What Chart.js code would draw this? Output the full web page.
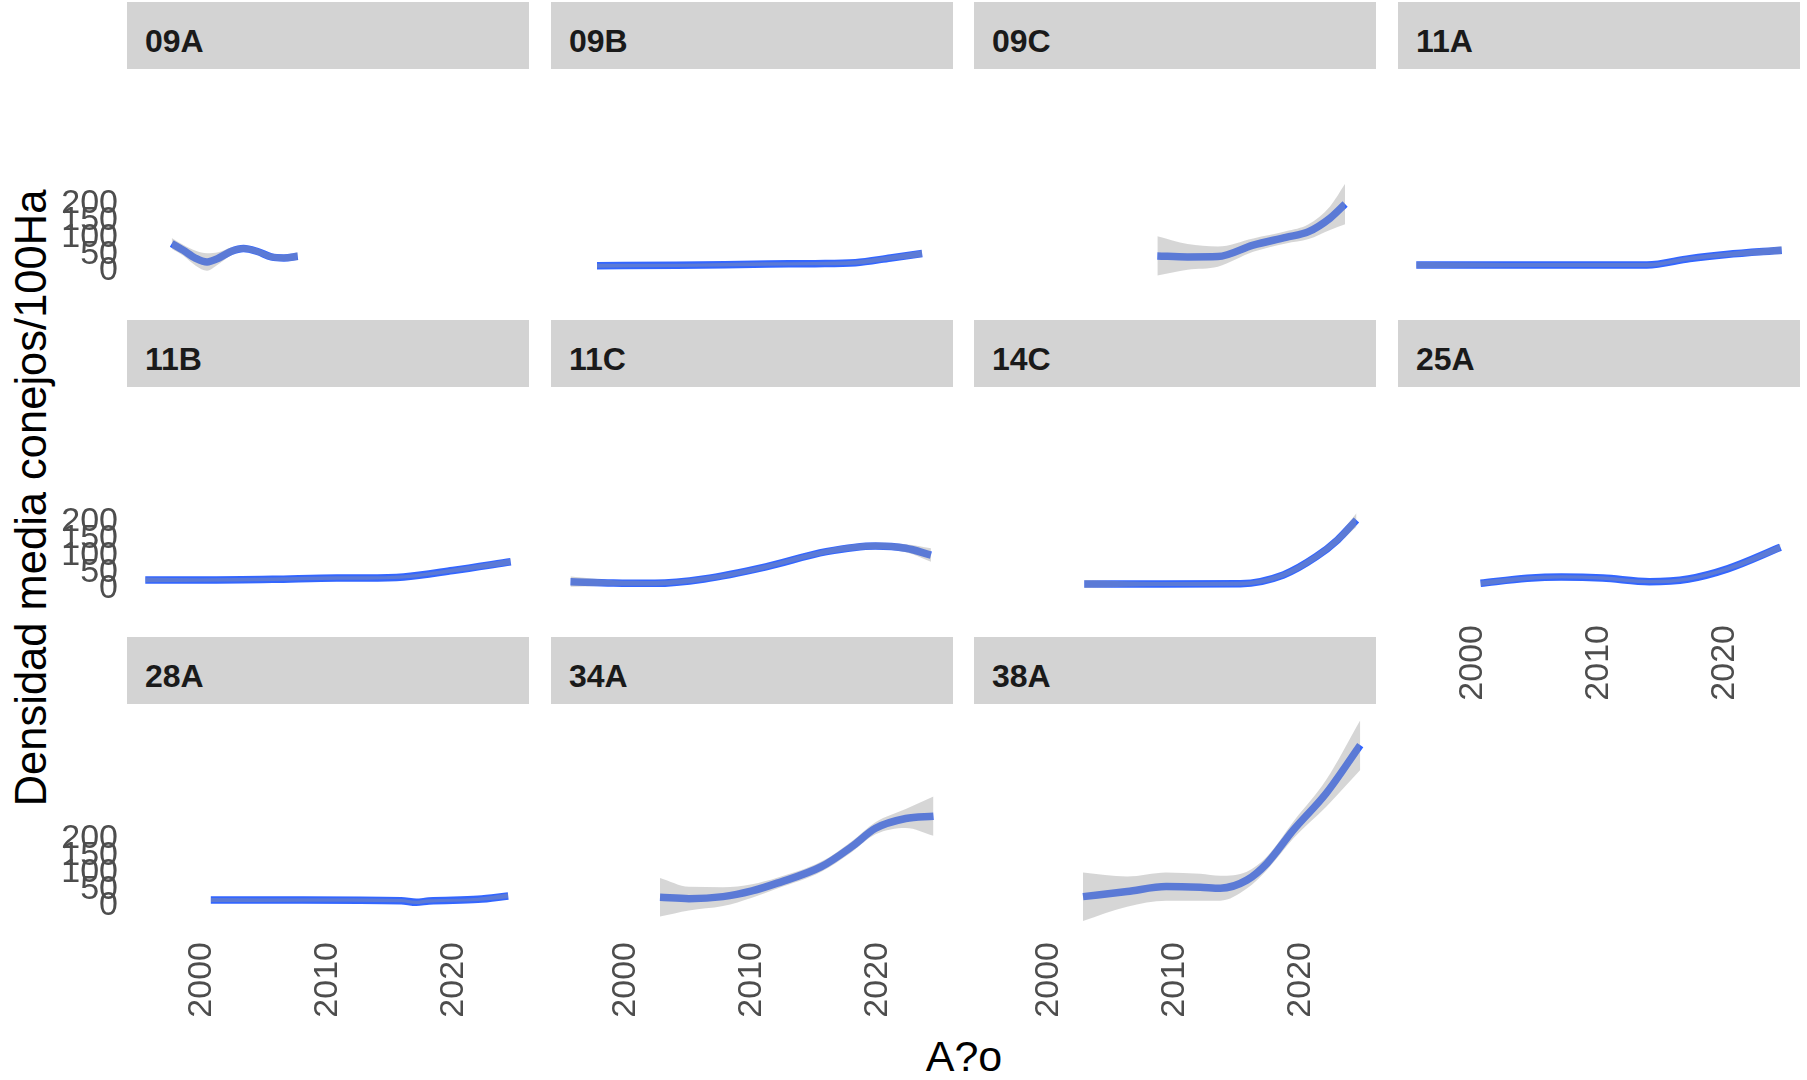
<!DOCTYPE html>
<html>
<head>
<meta charset="utf-8">
<script src="https://cdn.jsdelivr.net/npm/chart.js@4.4.1/dist/chart.umd.min.js"></script>
<style>
  body { margin: 0; background: #fff; width: 1807px; height: 1080px; position: relative; overflow: hidden;
         font-family: "Liberation Sans", Arial, sans-serif; }
  .strip { position: absolute; background: #d3d3d3; box-sizing: border-box; padding-left: 18px; padding-top: 23px;
           font-weight: bold; font-size: 32px; line-height: 32px; color: #1a1a1a; }
  canvas { position: absolute; }
  .ytitle { position: absolute; width: 700px; text-align: center; font-size: 43.5px; line-height: 44px; color: #000;
            transform: rotate(-90deg); }
  .xtitle { position: absolute; width: 400px; text-align: center; font-size: 43px; line-height: 43px; color: #000; }
</style>
</head>
<body>
<div class="ytitle" style="left:-319px; top:476px;">Densidad media conejos/100Ha</div>
<div class="xtitle" style="left:764px; top:1035px;">A?o</div>
<script>
// facet labels, in order
const panels = ['09A', '09B', '09C', '11A', '11B', '11C', '14C', '25A', '28A', '34A', '38A'];
const yearTicks = [2000, 2010, 2020];
const densityTicks = [0, 50, 100, 150, 200];

// smooth fit per panel: year, fitted value, half width of the grey band
const yr09A = [1997.6, 1998.5, 1999.5, 2000.4, 2001.3, 2002.3, 2003.3, 2004.4, 2005.5, 2006.5, 2007.6];
const fit09A = [82, 62, 38, 27, 38, 58, 67, 58, 42, 39, 44];
const ci09A = [16, 16, 22, 26, 18, 12, 10, 10, 10, 10, 12];

const yr09B = [1997.7, 2004, 2011.3, 2015, 2018.2, 2021.0, 2023.5];
const fit09B = [16, 17, 21, 22, 25, 39, 52];
const ci09B = [6, 5, 5, 5, 6, 7, 10];

const yr09C = [2008.6, 2011, 2013.4, 2016.2, 2018.8, 2020.6, 2022.3, 2023.5];
const fit09C = [45, 42, 43, 77, 100, 117, 157, 199];
const ci09C = [58, 38, 30, 20, 18, 22, 35, 60];

const yr11A = [1995.5, 2005, 2013.8, 2017.2, 2020.1, 2024.5];
const fit11A = [18, 18, 18, 37, 49, 62];
const ci11A = [10, 6, 6, 6, 7, 12];

const yr11B = [1995.5, 2000, 2005.6, 2010.7, 2013, 2016.0, 2019.9, 2024.5];
const fit11B = [27, 27, 29, 33, 33, 36, 55, 81];
const ci11B = [7, 5, 5, 5, 5, 5, 6, 9];

const yr11C = [1995.6, 1999, 2002.3, 2006.2, 2011.1, 2015.9, 2019.8, 2022.2, 2024.2];
const fit11C = [22, 18, 17, 30, 66, 111, 128, 121, 101];
const ci11C = [15, 8, 7, 7, 7, 8, 10, 12, 20];

const yr14C = [2002.8, 2009, 2015.2, 2018.6, 2021.2, 2022.9, 2024.4];
const fit14C = [15, 15, 16, 42, 96, 146, 205];
const ci14C = [12, 6, 6, 8, 10, 12, 20];

const yr25A = [2000.6, 2004.3, 2007, 2010.3, 2014.0, 2017.1, 2020.2, 2024.4];
const fit25A = [17, 32, 36, 33, 22, 30, 60, 124];
const ci25A = [8, 6, 5, 5, 5, 5, 6, 10];

const yr28A = [2000.7, 2008, 2015.8, 2017.0, 2018.0, 2021.9, 2024.3];
const fit28A = [18, 18, 16, 11, 15, 20, 30];
const ci28A = [6, 5, 5, 5, 5, 5, 7];

const yr34A = [2002.7, 2005, 2007.7, 2010, 2012.0, 2015.5, 2017.9, 2019.8, 2022.2, 2024.4];
const fit34A = [26, 22, 28, 45, 68, 117, 176, 231, 260, 267];
const ci34A = [57, 35, 28, 20, 16, 15, 16, 18, 28, 58];

const yr38A = [2002.7, 2006.2, 2009.3, 2012.0, 2013.6, 2015.7, 2017.3, 2019.4, 2022.0, 2024.7];
const fit38A = [28, 43, 58, 56, 53, 77, 127, 226, 335, 478];
const ci38A = [72, 45, 42, 40, 37, 25, 20, 25, 40, 74];

const series = {
    '09A': [yr09A, fit09A, ci09A], '09B': [yr09B, fit09B, ci09B], '09C': [yr09C, fit09C, ci09C],
    '11A': [yr11A, fit11A, ci11A], '11B': [yr11B, fit11B, ci11B], '11C': [yr11C, fit11C, ci11C],
    '14C': [yr14C, fit14C, ci14C], '25A': [yr25A, fit25A, ci25A], '28A': [yr28A, fit28A, ci28A],
    '34A': [yr34A, fit34A, ci34A], '38A': [yr38A, fit38A, ci38A]
};

// page layout (px)
const colLeft = [127, 551, 974, 1398];
const rowTop = [69, 387, 704];
const panelW = 402, panelH = 229, stripH = 67;
const yAxisW = 110, xAxisH = 100;
const tickFont = { family: '"Liberation Sans", Arial, sans-serif', size: 34 };

panels.forEach((name, i) => {
    const col = i % 4, row = Math.floor(i / 4);
    const showY = col === 0;
    const showX = row === 2 || (row === 1 && col === 3);

    const strip = document.createElement('div');
    strip.className = 'strip';
    strip.textContent = name;
    Object.assign(strip.style, {
        left: colLeft[col] + 'px', top: (rowTop[row] - stripH) + 'px',
        width: panelW + 'px', height: stripH + 'px'
    });
    document.body.appendChild(strip);

    const canvas = document.createElement('canvas');
    const w = panelW + (showY ? yAxisW : 0);
    const h = panelH + (showX ? xAxisH : 0);
    canvas.width = w;
    canvas.height = h;
    canvas.style.left = (colLeft[col] - (showY ? yAxisW : 0)) + 'px';
    canvas.style.top = rowTop[row] + 'px';
    canvas.style.width = w + 'px';
    canvas.style.height = h + 'px';
    document.body.appendChild(canvas);

    const [yr, fit, ci] = series[name];
    const pts = vals => yr.map((x, k) => ({ x: x, y: vals[k] }));
    const lower = pts(fit.map((v, k) => v - ci[k]));
    const upper = pts(fit.map((v, k) => v + ci[k]));

    new Chart(canvas, {
        type: 'line',
        data: {
            datasets: [
                { data: lower, borderWidth: 0, pointRadius: 0, fill: false, cubicInterpolationMode: 'monotone' },
                { data: upper, borderWidth: 0, pointRadius: 0, fill: '-1',
                  backgroundColor: 'rgba(153,153,153,0.4)', cubicInterpolationMode: 'monotone' },
                { data: pts(fit), borderColor: '#3366FF', borderWidth: 7.5, pointRadius: 0, fill: false,
                  cubicInterpolationMode: 'monotone', borderCapStyle: 'butt' }
            ]
        },
        options: {
            responsive: false,
            animation: false,
            events: [],
            layout: { padding: 0 },
            plugins: { legend: { display: false }, tooltip: { enabled: false } },
            scales: {
                x: {
                    type: 'linear', min: 1994.05, max: 2025.95,
                    display: showX,
                    border: { display: false },
                    grid: { display: false, drawTicks: false },
                    afterBuildTicks: axis => { axis.ticks = yearTicks.map(v => ({ value: v })); },
                    afterFit: axis => {
                        if (!showX) return;
                        axis.height = xAxisH;
                        axis.paddingLeft = 0; axis.paddingRight = 0;
                    },
                    ticks: { autoSkip: false, minRotation: 90, maxRotation: 90, padding: 9,
                             color: '#4d4d4d', font: tickFont, callback: v => String(v) }
                },
                y: {
                    type: 'linear', min: -80, max: 600,
                    display: showY,
                    border: { display: false },
                    grid: { display: false, drawTicks: false },
                    afterBuildTicks: axis => { axis.ticks = densityTicks.map(v => ({ value: v })); },
                    afterFit: axis => {
                        if (!showY) return;
                        axis.width = yAxisW;
                        axis.paddingTop = 0; axis.paddingBottom = 0;
                    },
                    ticks: { autoSkip: false, padding: 9, color: '#4d4d4d', font: tickFont,
                             callback: v => String(v) }
                }
            }
        }
    });
});
</script>
</body>
</html>
